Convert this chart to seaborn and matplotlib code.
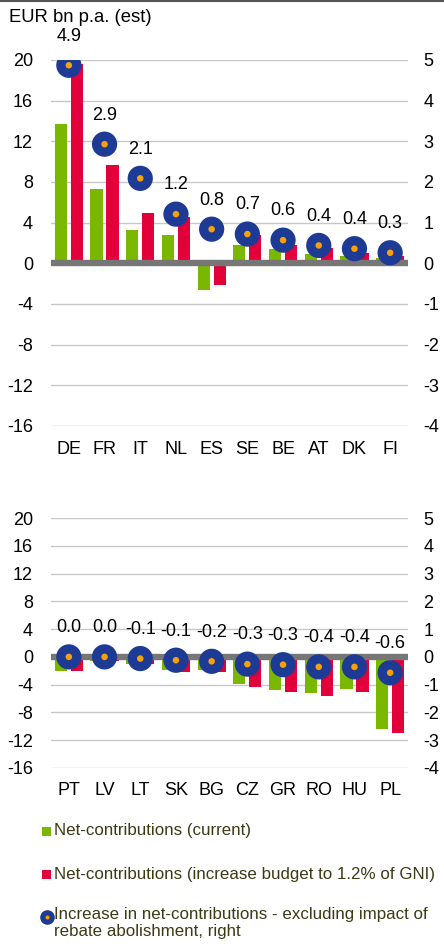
import numpy as np
import pandas as pd
import matplotlib
matplotlib.use("Agg")
import matplotlib.pyplot as plt
from matplotlib.lines import Line2D
from matplotlib.patches import Rectangle
import seaborn as sns

# ---------------- data ----------------
countries_top = ["DE", "FR", "IT", "NL", "ES", "SE", "BE", "AT", "DK", "FI"]
current_top = [13.7, 7.3, 3.3, 2.8, -2.6, 1.8, 1.45, 0.95, 0.7, 0.55]
budget_top = [19.6, 9.65, 5.0, 4.6, -2.1, 2.75, 1.85, 1.55, 1.05, 0.7]
increase_top = [4.87, 2.93, 2.09, 1.21, 0.84, 0.72, 0.57, 0.44, 0.36, 0.26]

countries_bot = ["PT", "LV", "LT", "SK", "BG", "CZ", "GR", "RO", "HU", "PL"]
current_bot = [-2.0, -0.6, -1.05, -1.9, -1.9, -3.9, -4.8, -5.2, -4.6, -10.4]
budget_bot = [-2.0, -0.65, -1.0, -2.2, -2.2, -4.3, -5.1, -5.65, -5.1, -11.0]
increase_bot = [0.0, 0.0, -0.06, -0.12, -0.16, -0.26, -0.28, -0.36, -0.36, -0.57]

left_ticks = [-16, -12, -8, -4, 0, 4, 8, 12, 16, 20]
right_ticks = [-4, -3, -2, -1, 0, 1, 2, 3, 4, 5]

series_names = ["Net-contributions (current)",
                "Net-contributions (increase budget to 1.2% of GNI)"]
dot_name = "Increase in net-contributions - excluding impact of\nrebate abolishment, right"
y_title = "EUR bn p.a. (est)"

# ---------------- style ----------------
GREEN = "#7ab800"
RED = "#e2003a"
BLUE = "#1d3a94"
ORANGE = "#f7a10a"
ZERO = "#767676"
GRID = "#c8c8c8"
LEGTXT = "#3b3b16"

sns.set_theme(style="white")
plt.rcParams["font.family"] = ["Liberation Sans", "DejaVu Sans"]

W, H = 444, 944
fig = plt.figure(figsize=(W / 100, H / 100), dpi=100)


def panel(rect, countries, cur, bud, inc, xpad):
    ax = fig.add_axes(rect)
    df = pd.DataFrame({
        "country": countries * 2,
        "series": [series_names[0]] * len(countries) + [series_names[1]] * len(countries),
        "value": list(cur) + list(bud),
    })
    sns.barplot(data=df, x="country", y="value", hue="series",
                palette=[GREEN, RED], width=0.9, gap=0.24, saturation=1,
                linewidth=0, ax=ax, legend=False, order=countries,
                hue_order=series_names)
    ax.set_xlim(-0.5, len(countries) - 0.5)
    ax.set_ylim(left_ticks[0], left_ticks[-1])
    ax.set_yticks(left_ticks)
    ax.set_yticklabels([str(t) for t in left_ticks])
    ax.set_xlabel("")
    ax.set_ylabel("")
    ax.grid(axis="y", color=GRID, lw=1.0)
    ax.grid(axis="x", visible=False)
    ax.set_axisbelow(True)
    ax.axhline(0, color=ZERO, lw=4.6, zorder=2.5)
    for s in ax.spines.values():
        s.set_visible(False)
    ax.tick_params(axis="y", length=0, pad=13, labelsize=13, labelcolor="black")
    ax.tick_params(axis="x", length=0, pad=xpad, labelsize=13, labelcolor="black")

    ax2 = ax.twinx()
    ax2.set_ylim(right_ticks[0], right_ticks[-1])
    ax2.set_yticks(right_ticks)
    ax2.set_yticklabels([str(t) for t in right_ticks])
    ax2.grid(False)
    for s in ax2.spines.values():
        s.set_visible(False)
    ax2.tick_params(axis="y", length=0, pad=11, labelsize=13, labelcolor="black")
    xs = np.arange(len(countries))
    sns.scatterplot(x=xs, y=inc, ax=ax2, s=330, color=BLUE, edgecolor="none",
                    zorder=3, legend=False)
    sns.scatterplot(x=xs, y=inc, ax=ax2, s=22, color=ORANGE, edgecolor="none",
                    zorder=4, legend=False)
    ax2.set_xlim(-0.5, len(countries) - 0.5)
    for x, v in zip(xs, inc):
        ax2.annotate(f"{v:.1f}", (x, v), xytext=(0, 21), textcoords="offset points",
                     ha="center", va="center", fontsize=13, color="black")
    return ax, ax2


L = 51 / W
AW = (408 - 51) / W
panel([L, 1 - 426 / H, AW, (426 - 60) / H], countries_top, current_top, budget_top,
      increase_top, 11)
panel([L, 1 - 768 / H, AW, (768 - 518) / H], countries_bot, current_bot, budget_bot,
      increase_bot, 10)

# title / top rule
fig.add_artist(Line2D([0, 1], [1 - 1 / H, 1 - 1 / H], transform=fig.transFigure,
                      color="#555555", lw=1.5))
fig.text(9 / W, 1 - 17 / H, y_title, ha="left", va="center", fontsize=13.3, color="black")

# legend (manual)
for yc, col, name in [(831, GREEN, series_names[0]), (874, RED, series_names[1])]:
    fig.add_artist(Rectangle((42 / W, 1 - (yc + 4.5) / H), 9 / W, 9 / H,
                             transform=fig.transFigure, color=col, lw=0))
    fig.text(54 / W, 1 - yc / H, name, ha="left", va="center", fontsize=12.2, color=LEGTXT)

fig.add_artist(Line2D([46.5 / W], [1 - 917 / H], transform=fig.transFigure,
                      marker="o", markersize=9.5, color=BLUE, lw=0))
fig.add_artist(Line2D([46.5 / W], [1 - 917 / H], transform=fig.transFigure,
                      marker="o", markersize=1.8, color=ORANGE, lw=0))
fig.text(54 / W, 1 - 907 / H, dot_name, ha="left", va="top", fontsize=12.2,
         color=LEGTXT, linespacing=1.15)

fig.savefig("out.png", dpi=100)
